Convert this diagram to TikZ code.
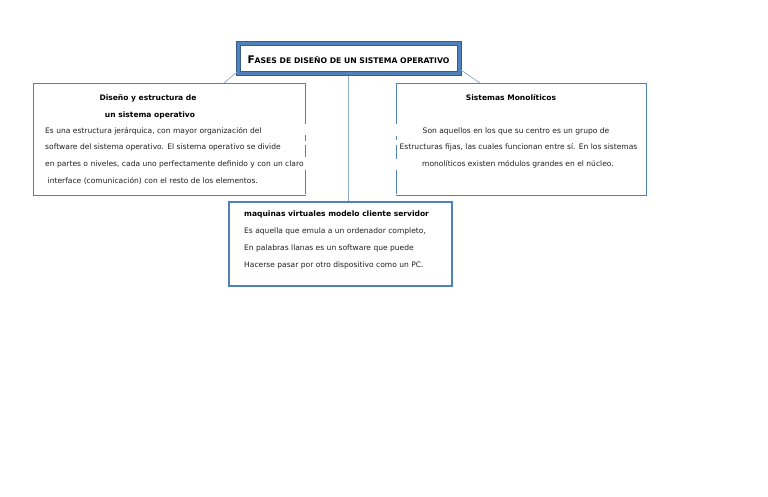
\documentclass[tikz,border=0pt]{standalone}
\usepackage{fontspec}
\setmainfont{DejaVu Sans}
\usetikzlibrary{calc}
\definecolor{boxblue}{HTML}{4F81BD}
\definecolor{darkblue}{HTML}{385D8A}
\definecolor{linkgray}{HTML}{8EA9C8}
\definecolor{txt}{HTML}{202020}
\tikzset{
  panel/.style={draw=boxblue, line width=1.1pt, inner sep=0pt, fill=white},
  titlebox/.style={draw=darkblue, line width=0.7pt, double=boxblue, double distance=3.4pt, inner sep=0pt, fill=white},
  link/.style={draw=linkgray, line width=0.7pt},
  body/.style={font=\fontsize{7.55}{8}\selectfont, text=txt, inner sep=0pt},
  head/.style={font=\fontsize{7.55}{8}\selectfont\bfseries, text=black, inner sep=0pt},
}
\begin{document}
\begin{tikzpicture}[x=1pt,y=-1pt]
\useasboundingbox[fill=white] (0,0) rectangle (768,497);
% boxes
\node[titlebox, minimum width=221pt, minimum height=30pt] (title) at (349,58.5) {};
\node[panel, draw=none, minimum width=271pt, minimum height=111pt] (left) at (169.5,139.5) {};
\node[panel, draw=none, minimum width=249pt, minimum height=111pt] (right) at (521.5,139.5) {};
\node[panel, minimum width=223pt, minimum height=84pt] (bottom) at (340.5,244) {};
% left panel border with broken right edge
\draw[boxblue, line width=1.1pt] (left.north east) -- (left.north west) -- (left.south west) -- (left.south east);
\draw[boxblue, line width=1.1pt, dash pattern=on 41pt off 11pt on 6pt off 4pt on 12pt off 13pt on 24pt] (left.north east) -- (left.south east);
% right panel border with broken left edge
\draw[boxblue, line width=1.1pt] (right.north west) -- (right.north east) -- (right.south east) -- (right.south west);
\draw[boxblue, line width=1.1pt, dash pattern=on 41pt off 12pt on 4pt off 5pt on 14pt off 11pt on 24pt] (right.north west) -- (right.south west);
% connectors
\draw[link] ($(title.south west)+(-1,-2)$) -- ($(left.north west)+(190,0)$);
\draw[link] ($(title.south east)+(1,-4)$) -- ($(right.north west)+(84,0)$);
\draw[link] ($(title.south)+(-1,2.5)$) -- ($(title.south |- bottom.north)+(-1,0)$);
% title text
\node[inner sep=0pt, text=black] (ttl) at (348.5,59.5) {\bfseries\fontsize{10.5}{11}\selectfont F\fontsize{7.7}{11}\selectfont ASES DE DISEÑO DE UN SISTEMA OPERATIVO};
% left text
\node[head] (l1) at (148,98) {Diseño y estructura de};
\node[head] (l2) at (150,115) {un sistema operativo};
\node[body, anchor=west] (l3) at (45,131) {Es una estructura jerárquica, con mayor organización del};
\node[body, anchor=west] (l4) at (45,147.5) {software del sistema operativo. El sistema operativo se divide};
\node[body, anchor=west] (l5) at (45,164) {en partes o niveles, cada uno perfectamente definido y con un claro};
\node[body, anchor=west] (l6) at (47.5,181) {interface (comunicación) con el resto de los elementos.};
% right text
\node[head] (r1) at (511,98) {Sistemas Monolíticos};
\node[body] (r2) at (516,131) {Son aquellos en los que su centro es un grupo de};
\node[body] (r3) at (518.5,147.5) {Estructuras fijas, las cuales funcionan entre sí. En los sistemas};
\node[body] (r4) at (518,164) {monolíticos existen módulos grandes en el núcleo.};
% bottom text
\node[head, anchor=west] (b1) at (244,214) {maquinas virtuales modelo cliente servidor};
\node[body, anchor=west] (b2) at (244,231) {Es aquella que emula a un ordenador completo,};
\node[body, anchor=west] (b3) at (244,248) {En palabras llanas es un software que puede};
\node[body, anchor=west] (b4) at (244,265) {Hacerse pasar por otro dispositivo como un PC.};
\end{tikzpicture}
\end{document}
